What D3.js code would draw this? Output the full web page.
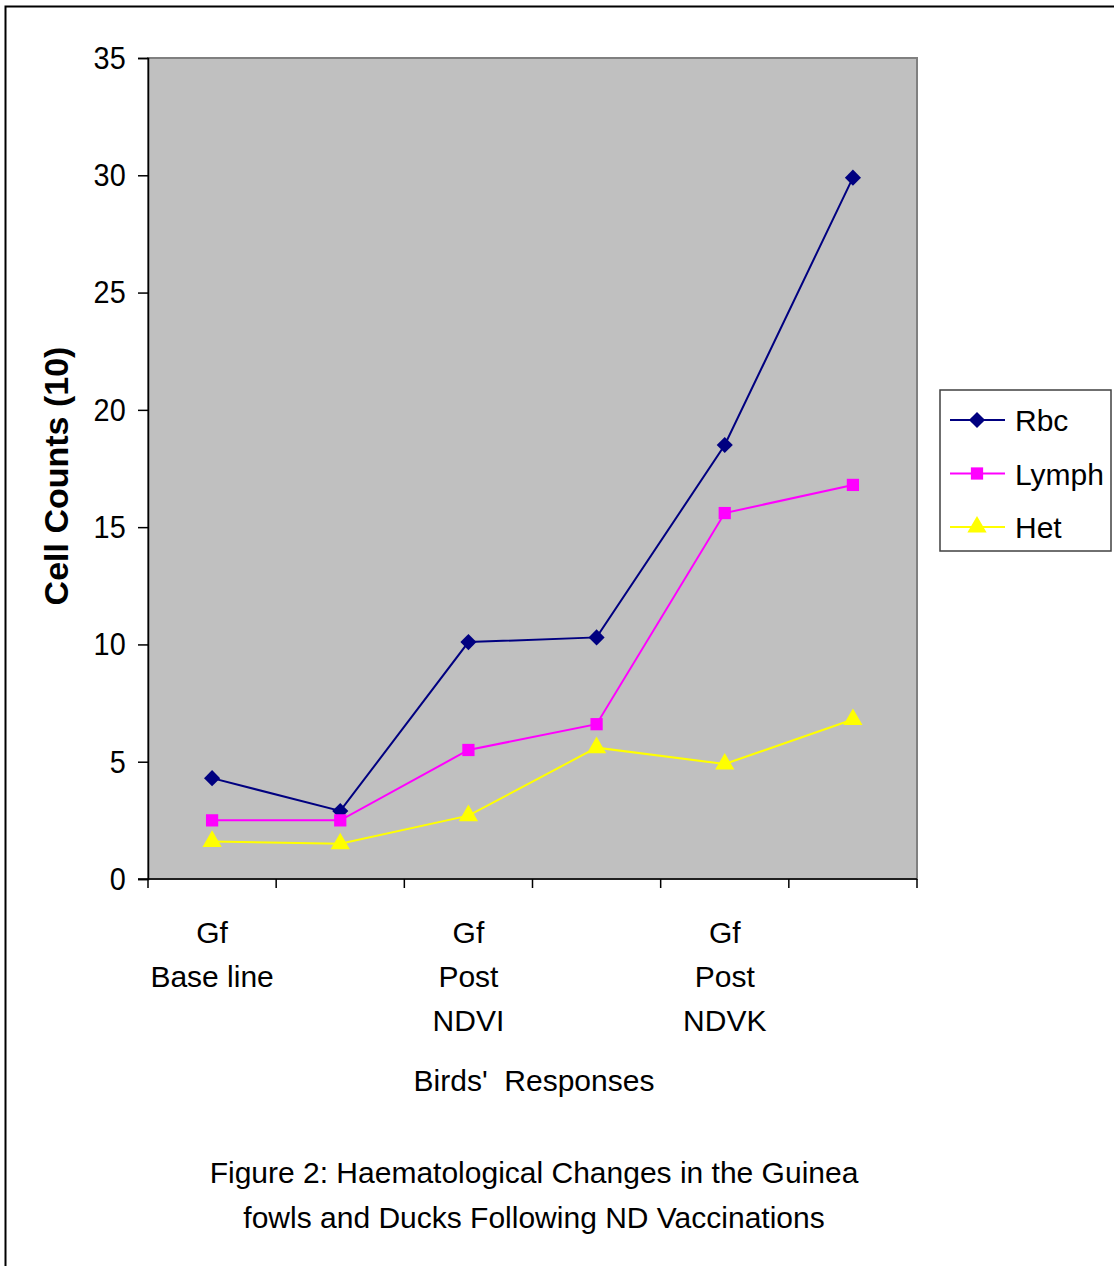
<!DOCTYPE html>
<html><head><meta charset="utf-8">
<script src="https://cdn.jsdelivr.net/npm/d3@7/dist/d3.min.js"></script>
<style>body{margin:0;background:#fff}svg{display:block}text{font-family:"Liberation Sans",Arial,sans-serif;fill:#000}</style>
</head><body>
<script>
const categories = ["Gf|Base line", "", "Gf|Post|NDVI", "", "Gf|Post|NDVK", ""];
const seriesNames = ["Rbc", "Lymph", "Het"];
const rbc = [4.3, 2.9, 10.1, 10.3, 18.5, 29.9];
const lymph = [2.5, 2.5, 5.5, 6.6, 15.6, 16.8];
const het = [1.6, 1.5, 2.7, 5.6, 4.9, 6.8];
const yTicks = [0, 5, 10, 15, 20, 25, 30, 35];
const colors = ["#000080", "#FF00FF", "#FFFF00"];
const series = [rbc, lymph, het];

const W = 1114, H = 1266;
const svg = d3.select("body").append("svg").attr("width", W).attr("height", H);
svg.append("rect").attr("x", 5.5).attr("y", 6.5).attr("width", W + 10).attr("height", H + 10)
  .attr("fill", "none").attr("stroke", "#000").attr("stroke-width", 2);

const L = 148, R = 917, T = 58, B = 879;
const x = d3.scaleBand().domain(d3.range(categories.length)).range([L, R]).padding(0);
const y = d3.scaleLinear().domain([0, 35]).range([B, T]);

svg.append("rect").attr("x", L).attr("y", T).attr("width", R - L).attr("height", B - T)
  .attr("fill", "#C0C0C0").attr("stroke", "#808080").attr("stroke-width", 2);

// y axis
const yAxis = svg.append("g").attr("transform", `translate(${L},0)`)
  .call(d3.axisLeft(y).tickValues(yTicks).tickSize(10).tickPadding(14).tickFormat(d3.format("d")));
yAxis.select(".domain").attr("stroke", "#000").attr("stroke-width", 1.5);
yAxis.selectAll(".tick line").attr("stroke", "#000").attr("stroke-width", 1.5);
yAxis.selectAll(".tick text").attr("font-size", 31).attr("font-family", "Liberation Sans, Arial, sans-serif").attr("fill", "#000")
  .attr("transform", "scale(0.93,1.04)");

// x axis: ticks at category boundaries
const bounds = d3.range(categories.length + 1).map(i => L + i * x.bandwidth());
const xg = svg.append("g");
xg.append("line").attr("x1", L - 10).attr("x2", R).attr("y1", B).attr("y2", B).attr("stroke", "#000").attr("stroke-width", 1.5);
xg.selectAll("line.t").data(bounds).join("line").attr("class", "t")
  .attr("x1", d => d).attr("x2", d => d).attr("y1", B).attr("y2", B + 9).attr("stroke", "#000").attr("stroke-width", 1.5);
categories.forEach((c, i) => {
  if (!c) return;
  const lines = c.split("|");
  const t = svg.append("text").attr("text-anchor", "middle").attr("font-size", 30)
    .attr("transform", `translate(${x(i) + x.bandwidth() / 2},0)`);
  lines.forEach((ln, j) => t.append("tspan").attr("x", 0).attr("y", 943 + j * 44).text(ln));
});

// markers
const mk = [
  d3.symbol().type(d3.symbolSquare).size(130),
  d3.symbol().type(d3.symbolSquare).size(150),
  d3.symbol().type(d3.symbolTriangle).size(160)
];
const rot = [45, 0, 0];
const line = d3.line().x((d, i) => x(i) + x.bandwidth() / 2).y(d => y(d));
series.forEach((s, k) => {
  svg.append("path").datum(s).attr("d", line).attr("fill", "none").attr("stroke", colors[k]).attr("stroke-width", 2);
  svg.selectAll(null).data(s).join("path")
    .attr("transform", (d, i) => `translate(${x(i) + x.bandwidth() / 2},${y(d)}) rotate(${rot[k]})`)
    .attr("d", mk[k]).attr("fill", colors[k]);
});

// legend
svg.append("rect").attr("x", 940).attr("y", 390).attr("width", 171).attr("height", 161)
  .attr("fill", "#fff").attr("stroke", "#404040").attr("stroke-width", 1.5);
seriesNames.forEach((n, k) => {
  const ly = 420 + k * 53.5;
  svg.append("line").attr("x1", 950).attr("x2", 1005).attr("y1", ly).attr("y2", ly).attr("stroke", colors[k]).attr("stroke-width", 2);
  svg.append("path").attr("transform", `translate(977,${ly}) rotate(${rot[k]})`).attr("d", mk[k]).attr("fill", colors[k]);
  svg.append("text").attr("x", 1015).attr("y", ly + 11).attr("font-size", 30).text(n);
});

// axis titles
svg.append("text").attr("transform", "translate(68,476) rotate(-90)").attr("text-anchor", "middle")
  .attr("font-size", 34).attr("font-weight", "bold").text("Cell Counts (10)");
svg.append("text").attr("transform", "translate(534,1091)").attr("text-anchor", "middle")
  .attr("font-size", 30).attr("xml:space", "preserve").text("Birds'  Responses");

// caption
const cap = ["Figure 2: Haematological Changes in the Guinea", "fowls and Ducks Following ND Vaccinations"];
cap.forEach((c, i) => svg.append("text").attr("transform", `translate(534,${1183 + i * 45})`)
  .attr("text-anchor", "middle").attr("font-size", 30).text(c));
</script>
</body></html>
